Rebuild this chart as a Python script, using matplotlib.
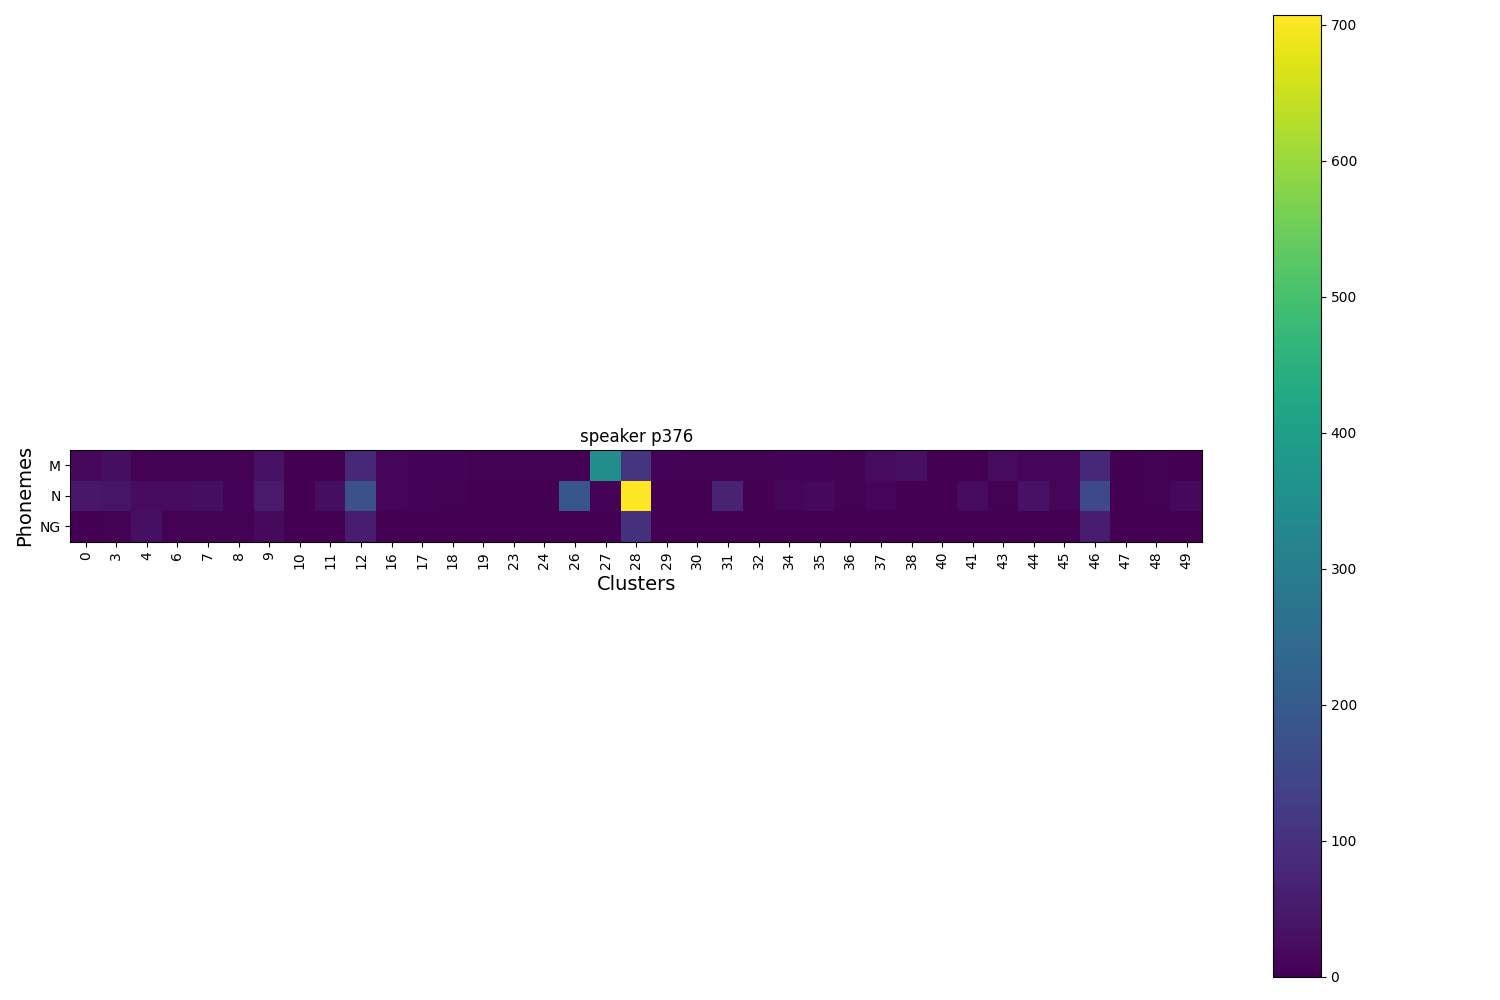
import matplotlib
matplotlib.use("Agg")
import matplotlib.pyplot as plt
import numpy as np

clusters = [0, 3, 4, 6, 7, 8, 9, 10, 11, 12, 16, 17, 18, 19, 23, 24, 26, 27, 28,
            29, 30, 31, 32, 34, 35, 36, 37, 38, 40, 41, 43, 44, 45, 46, 47, 48, 49]
phonemes = ["M", "N", "NG"]

# counts per phoneme, one value per cluster above
m_counts = [15, 25, 5, 5, 5, 5, 35, 2, 2, 80, 12, 8, 8, 5, 5, 5, 5, 350, 105,
            8, 5, 5, 5, 8, 8, 5, 20, 30, 2, 2, 20, 10, 10, 80, 2, 5, 2]
n_counts = [45, 40, 20, 20, 25, 8, 50, 2, 25, 175, 10, 8, 5, 2, 2, 2, 190, 8, 707,
            2, 2, 70, 2, 12, 15, 5, 12, 2, 2, 20, 5, 35, 12, 155, 2, 5, 15]
ng_counts = [2, 5, 30, 5, 5, 5, 18, 2, 2, 55, 0, 0, 0, 0, 0, 0, 0, 0, 100,
             0, 0, 0, 0, 0, 0, 0, 0, 0, 0, 0, 0, 0, 0, 55, 0, 0, 0]

data = np.array([m_counts, n_counts, ng_counts])

fig, ax = plt.subplots(figsize=(15, 10))
im = ax.imshow(data, cmap="viridis")
ax.set_xticks(range(len(clusters)))
ax.set_xticklabels([str(c) for c in clusters], rotation=90)
ax.set_yticks(range(len(phonemes)))
ax.set_yticklabels(phonemes)
ax.set_xlabel("Clusters", fontsize=14)
ax.set_ylabel("Phonemes", fontsize=14)
ax.set_title("speaker p376")
fig.colorbar(im, ax=ax)
plt.tight_layout()
plt.savefig("out.png", dpi=100)
